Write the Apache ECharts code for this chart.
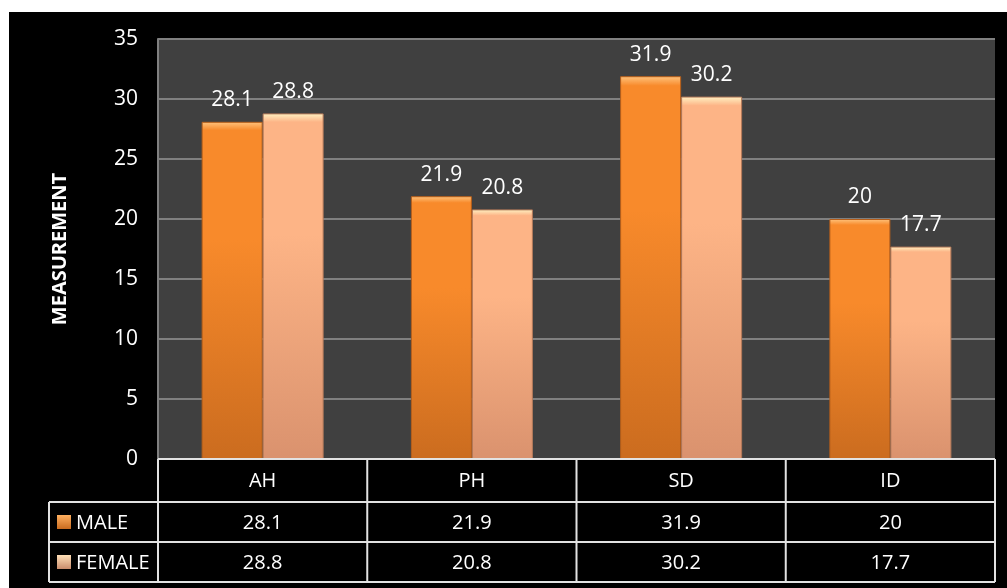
<!DOCTYPE html>
<html>
<head>
<meta charset="utf-8">
<script src="https://cdn.jsdelivr.net/npm/echarts@6/dist/echarts.min.js"></script>
<style>
  html, body { margin: 0; padding: 0; background: #fff; }
  #chart { position: absolute; left: 9px; top: 12px; width: 998px; height: 576px; }
</style>
</head>
<body>
<div id="chart"></div>
<script>
// 数据
const categories = ['AH', 'PH', 'SD', 'ID']
const maleValues = [28.1, 21.9, 31.9, 20]
const femaleValues = [28.8, 20.8, 30.2, 17.7]
const seriesNames = ['MALE', 'FEMALE']

const FONT = 'Open Sans'
const chart = echarts.init(document.getElementById('chart'))

// 网格位置（表格也按这个算）
const gridLeft = 149, gridRight = 12, gridTop = 27, gridBottom = 129
const W = 998, H = 576
const plotW = W - gridLeft - gridRight
const plotBottom = H - gridBottom
const colW = plotW / categories.length
const rowY = [plotBottom, plotBottom + 43, plotBottom + 83, plotBottom + 123]
const legendLeft = 40

function grad(cap, top, bottom) {
    return new echarts.graphic.LinearGradient(0, 0, 0, 1, [
        { offset: 0, color: cap },
        { offset: 0.025, color: top },
        { offset: 0.35, color: top },
        { offset: 1, color: bottom }
    ])
}
const maleColor = grad('#FFC47E', '#F88A2B', '#CB6C1F')
const femaleColor = grad('#FFF3C4', '#FDB486', '#DA926E')

// 表格
const lineStyle = { stroke: '#E2E2E2', lineWidth: 2 }
const table = []
function hLine(x1, x2, y) {
    table.push({ type: 'line', shape: { x1: x1, y1: y, x2: x2, y2: y }, style: lineStyle, z: 10 })
}
function vLine(x, y1, y2) {
    table.push({ type: 'line', shape: { x1: x, y1: y1, x2: x, y2: y2 }, style: lineStyle, z: 10 })
}
function cellText(text, x, y, align) {
    table.push({
        type: 'text', x: x, y: y, z: 10,
        style: { text: text, fill: '#fff', font: '20px "' + FONT + '"', align: align || 'center', verticalAlign: 'middle' }
    })
}
hLine(gridLeft, W - gridRight, rowY[0])
hLine(legendLeft, W - gridRight, rowY[1])
hLine(legendLeft, W - gridRight, rowY[2])
hLine(legendLeft, W - gridRight, rowY[3])
for (let i = 0; i <= categories.length; i++) {
    vLine(gridLeft + colW * i, rowY[0], rowY[3])
}
vLine(legendLeft, rowY[1], rowY[3])
const rows = [maleValues, femaleValues]
categories.forEach(function (c, i) {
    cellText(c, gridLeft + colW * (i + 0.5), (rowY[0] + rowY[1]) / 2 + 1)
})
rows.forEach(function (vals, r) {
    const cy = (rowY[r + 1] + rowY[r + 2]) / 2
    vals.forEach(function (v, i) {
        cellText(String(v), gridLeft + colW * (i + 0.5), cy + 1)
    })
    table.push({
        type: 'rect', shape: { x: 48, y: cy - 7, width: 14, height: 14 }, z: 10,
        style: { fill: new echarts.graphic.LinearGradient(0, 0, 0, 1, [
            { offset: 0, color: r === 0 ? '#FFB060' : '#FFE0B8' },
            { offset: 1, color: r === 0 ? '#C96B1F' : '#C98C6C' }
        ]) }
    })
    cellText(seriesNames[r], 67, cy + 1, 'left')
})

const label = {
    show: true,
    position: 'top',
    distance: 11,
    color: '#fff',
    fontSize: 21,
    fontFamily: FONT
}

const option = {
    backgroundColor: '#000',
    animation: false,
    grid: {
        left: gridLeft, right: gridRight, top: gridTop, bottom: gridBottom,
        show: true, backgroundColor: '#404040', borderWidth: 0
    },
    xAxis: {
        type: 'category',
        data: categories,
        axisLine: { show: false },
        axisTick: { show: false },
        axisLabel: { show: false }
    },
    yAxis: {
        type: 'value',
        min: 0, max: 35, interval: 5,
        name: 'MEASUREMENT',
        nameLocation: 'middle',
        nameGap: 88,
        nameTextStyle: { color: '#fff', fontSize: 20, fontWeight: 'bold', fontFamily: FONT },
        axisLine: { show: true, lineStyle: { color: '#808080', width: 2 } },
        axisTick: { show: false },
        axisLabel: { color: '#fff', fontSize: 21, fontFamily: FONT, margin: 20 },
        splitLine: { lineStyle: { color: '#808080', width: 2 } }
    },
    series: [
        {
            type: 'bar',
            name: seriesNames[0],
            data: maleValues,
            barWidth: 61,
            barGap: '0%',
            itemStyle: { color: maleColor, borderColor: '#B55E1A', borderWidth: 1 },
            label: label
        },
        {
            type: 'bar',
            name: seriesNames[1],
            data: femaleValues,
            barWidth: 61,
            itemStyle: { color: femaleColor, borderColor: '#B57A5A', borderWidth: 1 },
            label: label
        }
    ],
    graphic: table
}
chart.setOption(option)
</script>
</body>
</html>
